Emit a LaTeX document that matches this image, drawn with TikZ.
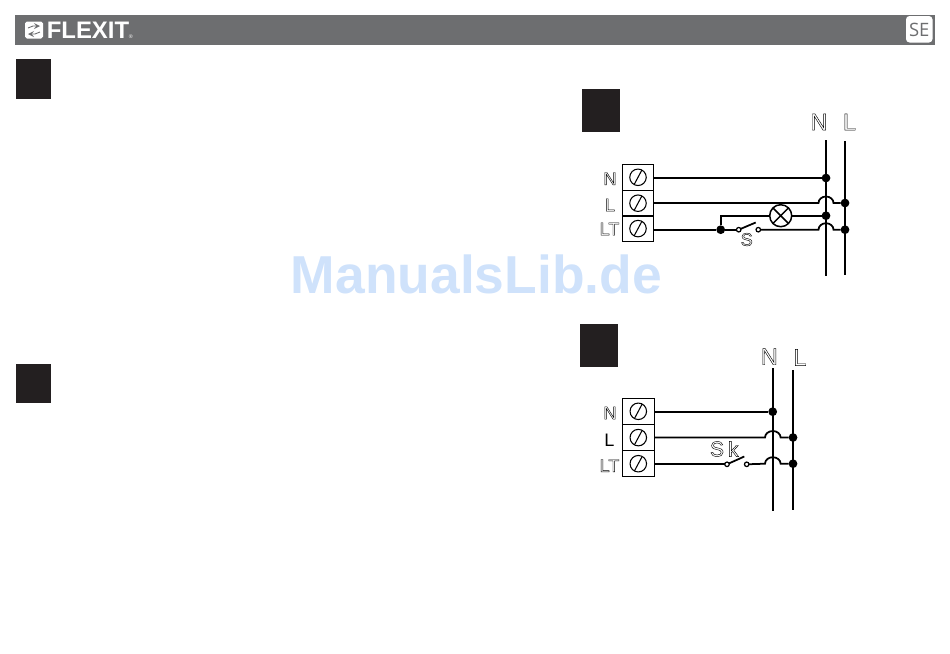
\documentclass[tikz,border=0pt]{standalone}
\usepackage{fontspec}
\setmainfont{Liberation Sans}
\newfontfamily\sefont{Open Sans}
\definecolor{barcol}{HTML}{6D6E70}
\definecolor{boxcol}{HTML}{231F20}
\definecolor{markcol}{HTML}{CFE2FB}
\newcommand{\hollow}[1]{\special{pdf:code 1 Tr 0.25 w}#1\special{pdf:code 0 Tr}}
\tikzset{
	wire/.style={line width=1pt, black},
	cell/.style={draw, line width=0.5pt, minimum width=0.628cm, minimum height=0.52cm, inner sep=0pt, outer sep=0pt},
	screw/.style={draw, circle, line width=0.6pt, minimum size=0.33cm, inner sep=0pt,
		path picture={\draw[line width=0.6pt] (-0.08cm,-0.15cm) -- (0.08cm,0.15cm);}},
	joint/.style={circle, fill=black, minimum size=0.175cm, inner sep=0pt, outer sep=0pt},
	contact/.style={circle, draw, fill=white, line width=0.7pt, minimum size=0.09cm, inner sep=0pt, outer sep=0pt},
	lamp/.style={draw, circle, line width=0.85pt, minimum size=0.44cm, inner sep=0pt, outer sep=0pt,
		path picture={\draw[line width=0.85pt] (path picture bounding box.south west) -- (path picture bounding box.north east) (path picture bounding box.north west) -- (path picture bounding box.south east);}},
	blackbox/.style={fill=boxcol, draw=none, inner sep=0pt, outer sep=0pt},
	biglabel/.style={inner sep=0pt, font=\fontsize{13.3}{13.3}\selectfont},
	sidelabel/.style={inner sep=0pt, font=\fontsize{10.3}{10.3}\selectfont},
}
\begin{document}
\begin{tikzpicture}[x=0.02cm, y=-0.02cm]
	\useasboundingbox (0,0) rectangle (950,653);

	% header
	\fill[barcol] (14.5,14.5) rectangle (935,45);
	\fill[white, rounded corners=1pt] (25,21.5) rectangle (43,38.5);
	\draw[barcol, line width=0.5pt, ->, >=stealth] (28,28) -- (33,26) -- (40,26);
	\draw[barcol, line width=0.5pt, ->, >=stealth] (40,32) -- (35,34) -- (28,34);
	\node[anchor=base west, inner sep=0pt, text=white, font=\bfseries\fontsize{13.6}{13.6}\selectfont] (logo) at (46.5,38) {FLEXIT};
	\node[anchor=base west, inner sep=0pt, text=white, font=\fontsize{3}{3}\selectfont] (regmark) at (128.5,38.5) {®};
	\fill[white, rounded corners=2pt] (906,16) rectangle (932.5,42.5);
	\node[text=barcol, inner sep=0pt, font=\sefont\fontsize{10.5}{10.5}\selectfont] (lang) at (919.2,29.5) {SE};

	% black boxes
	\fill[blackbox] (15.7,59.3) rectangle (50.7,98.5);
	\fill[blackbox] (15.7,363.5) rectangle (50.7,403);
	\fill[blackbox] (582,89) rectangle (620,132);
	\fill[blackbox] (580,323.5) rectangle (618,366.7);

	% watermark
	\node[anchor=base west, inner sep=0pt, text=markcol, font=\bfseries\fontsize{30.4}{30.4}\selectfont] (mark) at (290.5,293) {ManualsLib.de};

	% upper circuit
	\node[cell] (aN) at (638,177.3) {};
	\node[cell] (aL) at (638,203.2) {};
	\node[cell] (aT) at (638,228.6) {};
	\node[screw] at (aN) {};
	\node[screw] at (aL) {};
	\node[screw] at (aT) {};
	\node[sidelabel] at (610,178.7) {\hollow{N}};
	\node[sidelabel] at (610,205) {\hollow{L}};
	\node[sidelabel] at (609.5,229) {\hollow{LT}};
	\node[biglabel] at (819,122) {\hollow{N}};
	\node[biglabel] at (849.5,122) {\hollow{L}};
	\node[sidelabel] at (746.7,239.5) {\hollow{S}};

	\coordinate (aNtop) at (826,140);
	\coordinate (aNbot) at (826,275.7);
	\coordinate (aLtop) at (845,141);
	\coordinate (aLbot) at (845,275);
	\draw[wire] (aNtop) -- (aNbot);
	\draw[wire] (aLtop) -- (aLbot);
	\node[joint] (aj1) at (826,178) {};
	\node[joint] (aj2) at (845,203) {};
	\node[joint] (aj3) at (826,215.7) {};
	\node[joint] (aj4) at (845,229.7) {};
	\node[joint] (aj5) at (720.7,229.7) {};
	\node[lamp] (alamp) at (780.7,215.7) {};
	\node[contact] (as1) at (738.7,229.7) {};
	\node[contact] (as2) at (758.3,229.7) {};
	\coordinate (ablade) at (755.7,222.5);

	\draw[wire] (aN.east |- aj1) -- (aj1);
	\draw[wire] (aL.east |- aj2) -- (818.5,203) arc[start angle=180, end angle=360, x radius=7.5, y radius=6.5] -- (aj2);
	\draw[wire] (aT.east |- aj5) -- (aj5) -- (as1);
	\draw[wire] (aj5) |- (alamp.west);
	\draw[wire] (alamp.east) -- (aj3);
	\draw[wire] (as1) -- (ablade);
	\draw[wire] (as2) -- (818.5,229.7) arc[start angle=180, end angle=360, x radius=7.5, y radius=6.5] -- (aj4);

	% lower circuit
	\node[cell] (bN) at (638.3,411.3) {};
	\node[cell] (bL) at (638.3,437.6) {};
	\node[cell] (bT) at (638.3,463.7) {};
	\node[screw] at (bN) {};
	\node[screw] at (bL) {};
	\node[screw] at (bT) {};
	\node[sidelabel] at (610,413) {\hollow{N}};
	\node[sidelabel, font=\fontsize{10.3}{10.3}\selectfont] at (609.5,440) {L};
	\node[sidelabel] at (609.5,465.7) {\hollow{LT}};
	\node[biglabel] at (769.3,356.7) {\hollow{N}};
	\node[biglabel] at (800,357.5) {\hollow{L}};
	\node[sidelabel, font=\fontsize{12}{12}\selectfont] at (717,449) {\hollow{S}};
	\node[sidelabel, font=\fontsize{12}{12}\selectfont] at (733.3,449) {\hollow{k}};

	\coordinate (bNtop) at (772.7,368);
	\coordinate (bNbot) at (772.7,510.7);
	\coordinate (bLtop) at (793,370);
	\coordinate (bLbot) at (793,510);
	\draw[wire] (bNtop) -- (bNbot);
	\draw[wire] (bLtop) -- (bLbot);
	\node[joint] (bj1) at (772.7,411.7) {};
	\node[joint] (bj2) at (793,437.5) {};
	\node[joint] (bj4) at (793,463.7) {};
	\node[contact] (bs1) at (727,464.3) {};
	\node[contact] (bs2) at (746.7,464.3) {};
	\coordinate (bblade) at (744.3,456.5);

	\draw[wire] (bN.east |- bj1) -- (bj1);
	\draw[wire] (bL.east |- bj2) -- (765,437.5) arc[start angle=180, end angle=360, x radius=7.8, y radius=6.5] -- (bj2);
	\draw[wire] (bT.east |- bs1) -- (bs1);
	\draw[wire] (bs1) -- (bblade);
	\draw[wire] (bs2) -- (765,463.7) arc[start angle=180, end angle=360, x radius=7.8, y radius=6.5] -- (bj4);
\end{tikzpicture}
\end{document}
